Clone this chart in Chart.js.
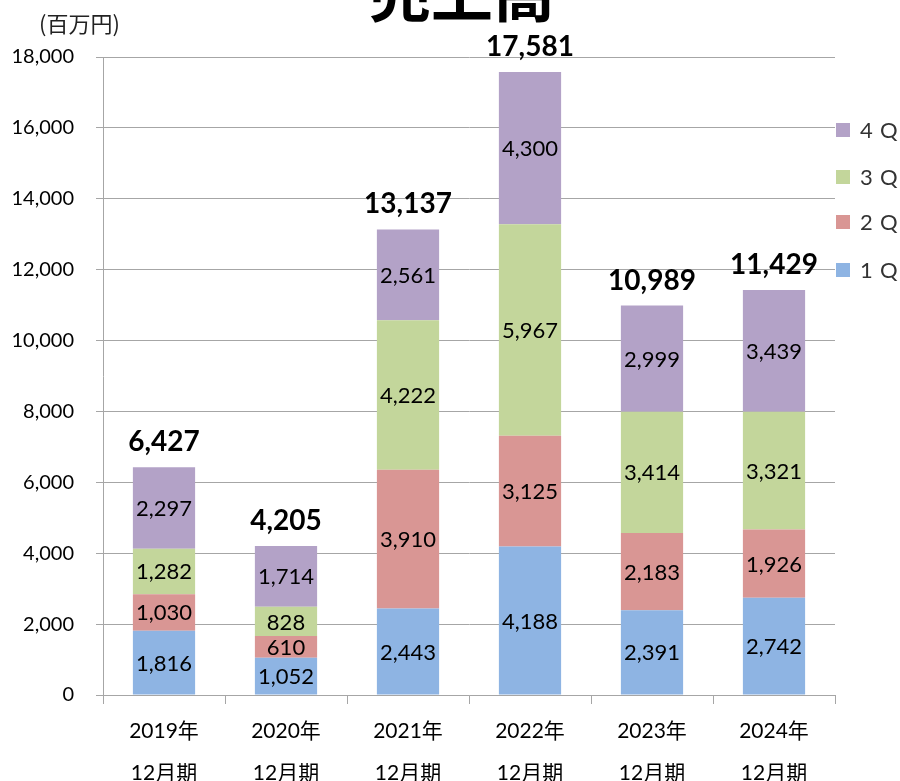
<!DOCTYPE html>
<html>
<head>
<meta charset="utf-8">
<script src="https://cdn.jsdelivr.net/npm/chart.js@4/dist/chart.umd.min.js"></script>
<style>
  html, body { margin: 0; padding: 0; background: #fff; }
  #wrap { width: 900px; height: 781px; }
</style>
</head>
<body>
<div id="wrap"><canvas id="salesChart" width="900" height="781"></canvas></div>
<script>
const categories = [['2019年', '12月期'], ['2020年', '12月期'], ['2021年', '12月期'], ['2022年', '12月期'], ['2023年', '12月期'], ['2024年', '12月期']];
const q1 = [1816, 1052, 2443, 4188, 2391, 2742];
const q2 = [1030, 610, 3910, 3125, 2183, 1926];
const q3 = [1282, 828, 4222, 5967, 3414, 3321];
const q4 = [2297, 1714, 2561, 4300, 2999, 3439];
const totals = [6427, 4205, 13137, 17581, 10989, 11429];
const seriesNames = ['1 Q', '2 Q', '3 Q', '4 Q'];
const seriesColors = ['#8EB4E3', '#D99694', '#C3D69B', '#B3A2C7'];
const yTicks = [0, 2000, 4000, 6000, 8000, 10000, 12000, 14000, 16000, 18000];

const jpFont = '"Lato", "Noto Sans CJK JP", sans-serif';
const fmt = v => v.toLocaleString('en-US');

// value labels inside segments, totals above, title, unit and legend
const labelsPlugin = {
    id: 'labels',
    afterDatasetsDraw(chart) {
        const ctx = chart.ctx;
        ctx.save();
        ctx.fillStyle = '#000';
        ctx.textAlign = 'center';
        ctx.textBaseline = 'middle';
        ctx.font = '22px ' + jpFont;
        chart.data.datasets.forEach((ds, i) => {
            chart.getDatasetMeta(i).data.forEach((bar, j) => {
                const mid = (bar.y + bar.base) / 2;
                ctx.fillText(fmt(ds.data[j]), bar.x, mid + 1);
            });
        });
        // totals
        const yScale = chart.scales.y;
        const xScale = chart.scales.x;
        ctx.font = 'bold 28px ' + jpFont;
        ctx.textBaseline = 'alphabetic';
        totals.forEach((t, j) => {
            ctx.fillText(fmt(t), xScale.getPixelForValue(j), yScale.getPixelForValue(t) - 16);
        });
        ctx.restore();
    },
    afterDraw(chart) {
        const ctx = chart.ctx;
        ctx.save();
        // title (cut off at top)
        ctx.fillStyle = '#000';
        ctx.textAlign = 'center';
        ctx.textBaseline = 'alphabetic';
        ctx.font = 'bold 62px "Noto Sans CJK JP", sans-serif';
        ctx.fillText('売上高', 462, 17);
        // unit
        ctx.font = '22px "Noto Sans CJK JP", sans-serif';
        ctx.fillStyle = '#222';
        ctx.textAlign = 'left';
        ctx.textBaseline = 'middle';
        ctx.fillText('(百万円)', 39, 24);
        // legend, 4Q on top
        const legendY = [270, 222, 177, 130];
        ctx.font = '22px ' + jpFont;
        for (let i = 0; i < 4; i++) {
            const parts = seriesNames[i].split(' ');
            ctx.fillStyle = seriesColors[i];
            ctx.fillRect(836, legendY[i] - 7, 14, 14);
            ctx.fillStyle = '#333';
            ctx.fillText(parts[0], 860, legendY[i] + 1);
            ctx.fillText(parts[1], 880, legendY[i] + 1);
        }
        ctx.restore();
    }
};

const ctx = document.getElementById('salesChart').getContext('2d');
const chart = new Chart(ctx, {
    type: 'bar',
    data: {
        labels: categories,
        datasets: [q1, q2, q3, q4].map((d, i) => ({
            label: seriesNames[i],
            data: d,
            backgroundColor: seriesColors[i],
            borderWidth: 0,
            categoryPercentage: 1.0,
            barPercentage: 0.51
        }))
    },
    options: {
        responsive: false,
        animation: false,
        devicePixelRatio: 1,
        layout: { padding: { top: 57, right: 65, left: 0, bottom: 0 } },
        plugins: {
            legend: { display: false },
            tooltip: { enabled: false }
        },
        scales: {
            x: {
                stacked: true,
                grid: {
                    offset: true,
                    drawOnChartArea: false,
                    drawTicks: true,
                    tickLength: 9,
                    color: '#A6A6A6'
                },
                border: { color: '#A6A6A6', width: 1 },
                ticks: {
                    color: '#000',
                    font: { family: jpFont, size: 21, lineHeight: 2.0 },
                    padding: 6,
                    maxRotation: 0
                },
                afterFit(scale) { scale.height = 86; }
            },
            y: {
                stacked: true,
                min: 0,
                max: 18000,
                afterBuildTicks(scale) { scale.ticks = yTicks.map(v => ({ value: v })); },
                grid: {
                    color: '#A6A6A6',
                    tickLength: 7
                },
                border: { color: '#A6A6A6', width: 1 },
                ticks: {
                    color: '#000',
                    font: { family: jpFont, size: 20 },
                    padding: 22,
                    callback: v => fmt(v)
                },
                afterFit(scale) { scale.width = 103; }
            }
        }
    },
    plugins: [labelsPlugin]
});
</script>
</body>
</html>
